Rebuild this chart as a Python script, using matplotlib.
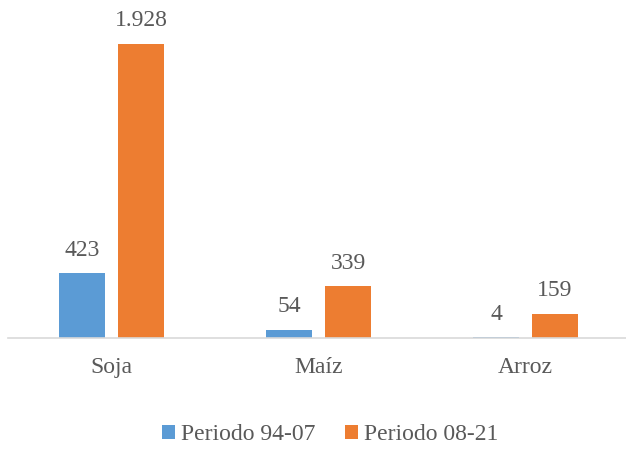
import matplotlib
matplotlib.use("Agg")
from matplotlib import pyplot as plt
import numpy as np

categorias = ["Soja", "Maíz", "Arroz"]
periodo_94_07 = [423, 54, 4]
periodo_08_21 = [1928, 339, 159]
etiquetas_94_07 = ["423", "54", "4"]
etiquetas_08_21 = ["1.928", "339", "159"]

plt.rcParams['font.family'] = ['Liberation Serif', 'DejaVu Serif']
gris = '#595959'

fig = plt.figure(figsize=(6.26, 4.49), dpi=100)
ax = fig.add_axes([8/626, 111/449, 618/626, 328/449])

x = np.arange(len(categorias))
w = 46 / 207
off = 29.5 / 207
b1 = ax.bar(x - off, periodo_94_07, w, color='#5B9BD5', label='Periodo 94-07')
b2 = ax.bar(x + off, periodo_08_21, w, color='#ED7D31', label='Periodo 08-21')

for barras, textos in [(b1, etiquetas_94_07), (b2, etiquetas_08_21)]:
    for rect, t in zip(barras, textos):
        ax.annotate(t, (rect.get_x() + rect.get_width()/2, rect.get_height()),
                    xytext=(0, 9), textcoords='offset points', ha='center', va='bottom',
                    fontsize=17, color=gris)

ax.set_xlim(-0.5, (626 - 111.5) / 207)
ax.set_ylim(0, 1928 * 328 / 294)
ax.set_xticks(x)
ax.set_xticklabels(categorias, fontsize=17, color=gris)
ax.tick_params(axis='x', length=0, pad=14)
ax.set_yticks([])
for s in ['top', 'right', 'left']:
    ax.spines[s].set_visible(False)
ax.spines['bottom'].set_color('#D9D9D9')
ax.spines['bottom'].set_linewidth(1.2)

fig.legend(loc='center', bbox_to_anchor=(330/626, 1 - 435/449), ncol=2, frameon=False,
           fontsize=17, labelcolor=gris, handlelength=0.55, handleheight=0.55,
           handletextpad=0.25, columnspacing=1.27)

fig.savefig('out.png', dpi=100)
